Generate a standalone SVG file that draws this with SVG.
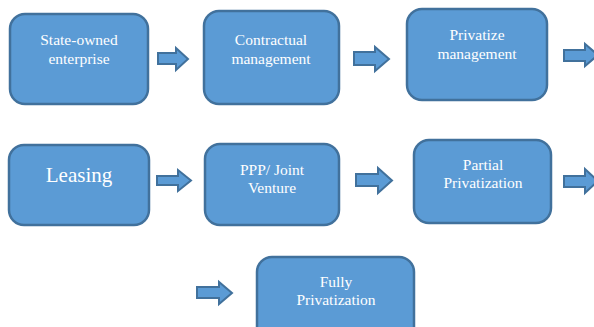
<svg xmlns="http://www.w3.org/2000/svg" width="594" height="327" viewBox="0 0 594 327">
<style>
.box{fill:#5b9bd5;stroke:#41719c;stroke-width:2.5}
.arr{fill:#5b9bd5;stroke:#41719c;stroke-width:2;stroke-linejoin:miter}
.t{font-family:'Liberation Serif','DejaVu Serif',serif;fill:#ffffff;font-size:15.5px;text-anchor:middle}
.big{font-size:21px}
</style>
<rect width="594" height="327" fill="#ffffff"/>
<g id="n1"><rect class="box" x="10" y="14" width="138" height="90" rx="15"/><text class="t" x="79" y="45">State-owned</text><text class="t" x="79" y="64">enterprise</text></g>
<g id="n2"><rect class="box" x="204" y="11" width="135" height="93" rx="15"/><text class="t" x="271" y="45">Contractual</text><text class="t" x="271" y="64">management</text></g>
<g id="n3"><rect class="box" x="407" y="9" width="140" height="91" rx="15"/><text class="t" x="477" y="40">Privatize</text><text class="t" x="477" y="59">management</text></g>
<g id="n4"><rect class="box" x="9" y="145" width="140" height="80" rx="15"/><text class="t big" x="79" y="182">Leasing</text></g>
<g id="n5"><rect class="box" x="205" y="144" width="134" height="81" rx="15"/><text class="t" x="272" y="175">PPP/ Joint</text><text class="t" x="272" y="193">Venture</text></g>
<g id="n6"><rect class="box" x="414" y="140" width="137" height="83" rx="15"/><text class="t" x="483" y="170">Partial</text><text class="t" x="483" y="188">Privatization</text></g>
<g id="n7"><rect class="box" x="257" y="257" width="157" height="85" rx="15"/><text class="t" x="336" y="287">Fully</text><text class="t" x="336" y="305">Privatization</text></g>
<g id="connectors">
<polygon class="arr" points="158,53 176,53 176,48 188,59 176,70 176,64 158,64"/>
<polygon class="arr" points="354,52 375,52 375,47 389,59 375,71 375,65 354,65"/>
<polygon class="arr" points="564,50 585,50 585,44 598,55 585,66 585,61 564,61"/>
<polygon class="arr" points="157,176 178,176 178,170 191,180.5 178,191 178,185 157,185"/>
<polygon class="arr" points="356,174 378,174 378,168 392,180.5 378,193 378,186 356,186"/>
<polygon class="arr" points="564,176 585,176 585,169 598,181 585,193 585,187 564,187"/>
<polygon class="arr" points="197,287 219,287 219,282 232,293 219,304 219,298 197,298"/>
</g>
</svg>
